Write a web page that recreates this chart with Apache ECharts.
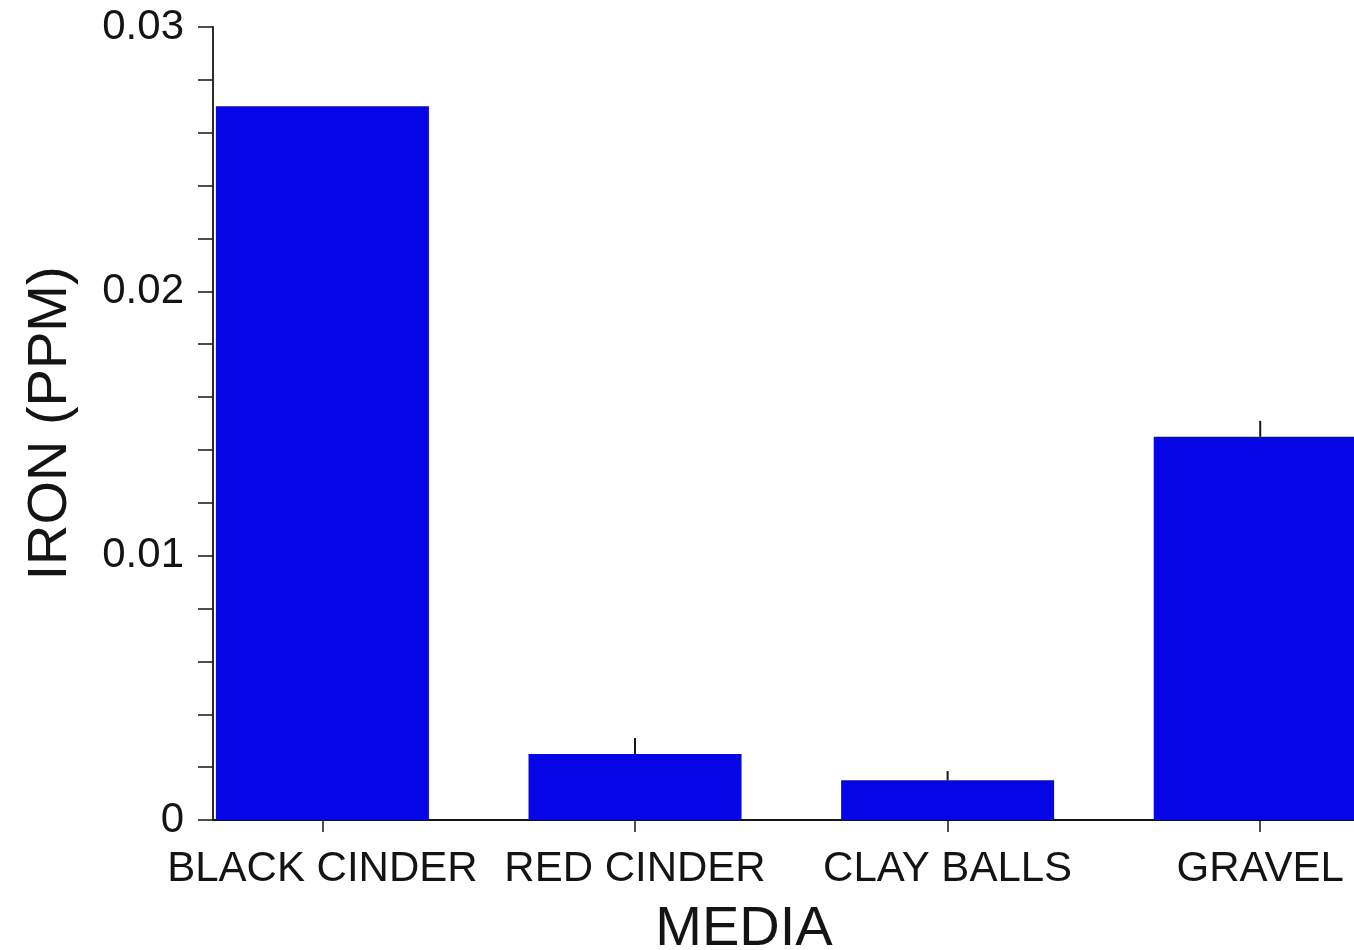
<!DOCTYPE html>
<html>
<head>
<meta charset="utf-8">
<title>Iron by media</title>
<script src="https://cdn.jsdelivr.net/npm/echarts@6/dist/echarts.min.js"></script>
<style>
  html, body { margin: 0; padding: 0; background: #ffffff; }
  #chart { width: 1354px; height: 950px; }
</style>
</head>
<body>
<div id="chart"></div>
<script>
// Filter media and measured iron concentration (ppm) with error
const categories = ['BLACK CINDER', 'RED CINDER', 'CLAY BALLS', 'GRAVEL'];
const ironPpm = [0.027, 0.0025, 0.0015, 0.0145];
const ironErr = [0, 0.0006, 0.00035, 0.0006];
const yTicks = [0, 0.01, 0.02, 0.03];

const FONT = '"Liberation Sans", Arial, sans-serif';
const INK = '#141414';
const BAR = '#0505e6';

const positions = categories.map((_, i) => i);
const barData = ironPpm.map((v, i) => [i, v]);
const errData = ironPpm.map((v, i) => [i, v, ironErr[i]]);

const chart = echarts.init(document.getElementById('chart'), null, { renderer: 'canvas' });

chart.setOption({
  backgroundColor: '#ffffff',
  animation: false,
  grid: { left: 213, right: 0, top: 27, bottom: 130, containLabel: false, outerBoundsMode: 'none' },
  xAxis: {
    type: 'value',
    min: -0.35,
    max: 3.30,
    name: 'MEDIA',
    nameLocation: 'middle',
    nameGap: 82,
    nameTextStyle: { fontFamily: FONT, fontSize: 56, color: INK, padding: [0, 79, 0, 0] },
    axisLine: { show: true, onZero: false, lineStyle: { color: INK, width: 1.8 } },
    axisTick: { show: true, customValues: positions, length: 12, lineStyle: { color: INK, width: 1.5 } },
    axisLabel: {
      customValues: positions,
      formatter: v => categories[Math.round(v)],
      fontFamily: FONT, fontSize: 42, color: INK, margin: 28
    },
    splitLine: { show: false }
  },
  yAxis: {
    type: 'value',
    min: 0,
    max: 0.03,
    interval: 0.01,
    name: 'IRON (PPM)',
    nameLocation: 'middle',
    nameGap: 134,
    nameTextStyle: { fontFamily: FONT, fontSize: 56, color: INK },
    axisLine: { show: true, onZero: false, lineStyle: { color: INK, width: 1.8 } },
    axisTick: { show: true, length: 15, lineStyle: { color: INK, width: 1.5 } },
    minorTick: { show: true, splitNumber: 5, length: 15, lineStyle: { color: INK, width: 1.5 } },
    axisLabel: {
      customValues: yTicks,
      formatter: v => (v === 0 ? '0' : String(+v.toFixed(2))),
      fontFamily: FONT, fontSize: 42, color: INK, margin: 29
    },
    splitLine: { show: false },
    minorSplitLine: { show: false }
  },
  series: [
    {
      type: 'bar',
      data: barData,
      barWidth: 213,
      itemStyle: { color: BAR },
      clip: true,
      z: 2
    },
    {
      type: 'custom',
      data: errData,
      z: 3,
      renderItem: (params, api) => {
        const x = api.value(0);
        const v = api.value(1);
        const e = api.value(2);
        if (!e) return null;
        const p0 = api.coord([x, v]);
        const p1 = api.coord([x, v + e]);
        return {
          type: 'line',
          shape: { x1: p0[0], y1: p0[1], x2: p1[0], y2: p1[1] },
          style: { stroke: INK, lineWidth: 2 }
        };
      }
    }
  ]
});
</script>
</body>
</html>
